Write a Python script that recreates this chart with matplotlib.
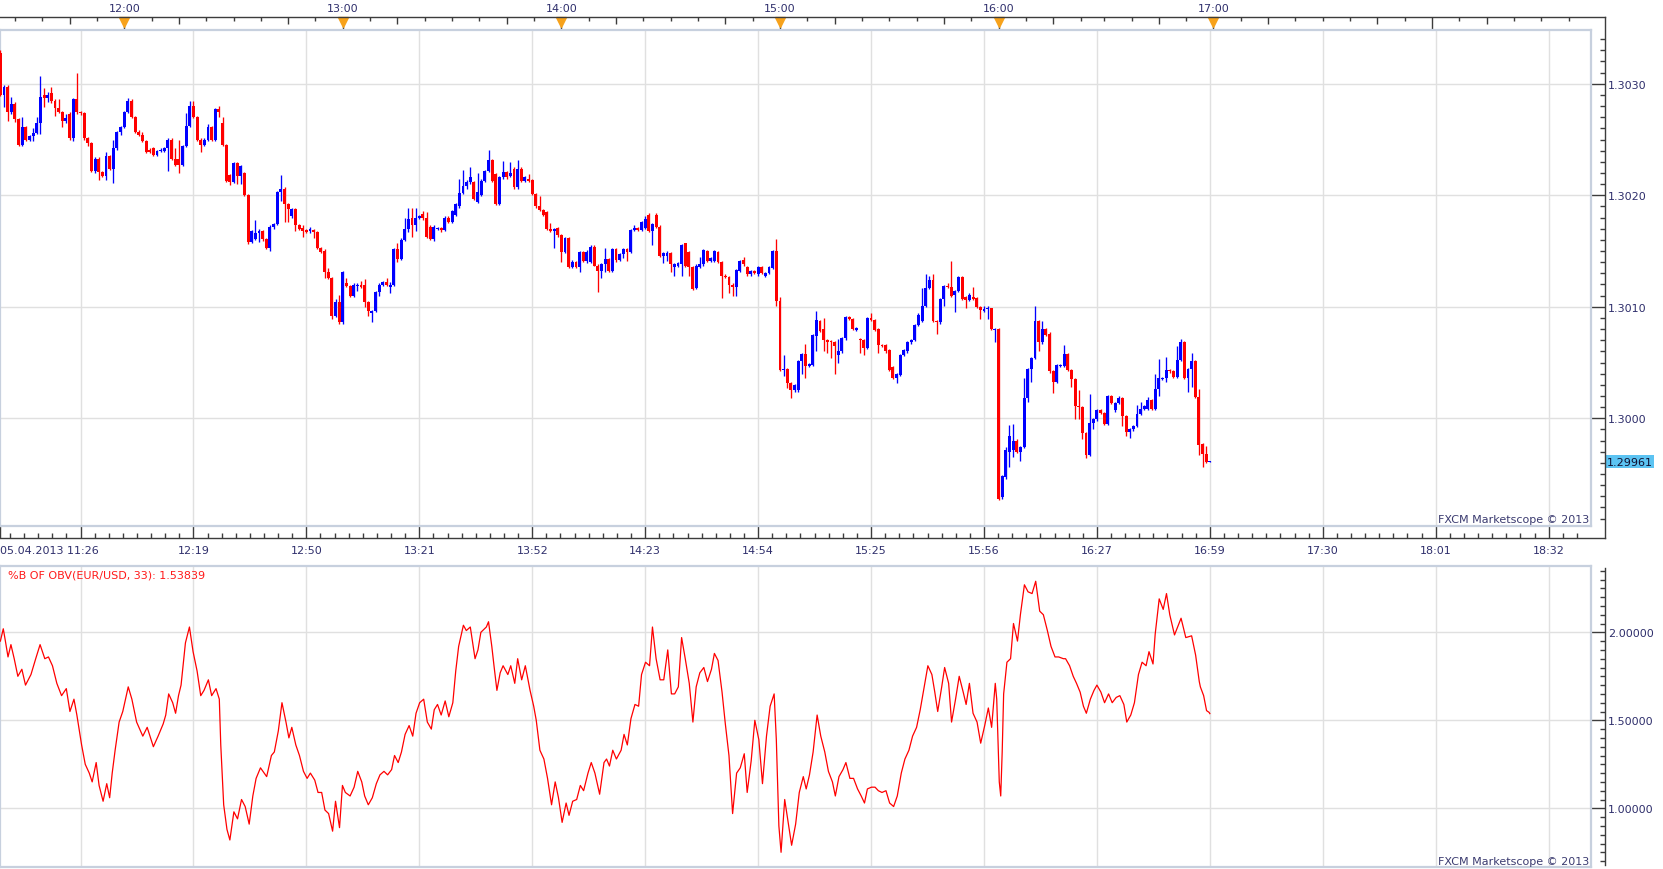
import numpy as np
import matplotlib
matplotlib.use('Agg')
import matplotlib.pyplot as plt
import matplotlib.transforms as mtransforms
from matplotlib.lines import Line2D

# EUR/USD 1-minute candles, 05.04.2013 11:26 .. 16:59, prices in pips above 1.3000
base = 1.3000
opens_pips = [
    32.8, 29.0, 29.7, 27.5, 28.2, 26.8, 24.5, 26.1, 25.0, 25.3,
    25.6, 26.5, 29.0, 28.7, 29.2, 28.5, 27.8, 27.5, 26.7, 27.3,
    25.1, 28.6, 27.5, 27.4, 25.1, 24.7, 22.2, 23.3, 22.1, 21.7,
    23.5, 22.4, 24.2, 25.7, 26.1, 27.5, 28.5, 27.0, 25.7, 25.4,
    24.9, 24.1, 24.2, 23.6, 24.0, 24.0, 24.2, 25.0, 23.3, 23.3,
    22.7, 24.4, 26.2, 28.0, 27.0, 25.0, 24.5, 25.0, 26.1, 25.0,
    27.7, 26.5, 24.5, 21.8, 21.2, 22.9, 21.7, 22.0, 20.0, 15.8,
    16.1, 16.6, 16.8, 16.1, 15.3, 17.2, 17.4, 20.3, 20.6, 19.2,
    18.1, 18.8, 17.3, 17.1, 16.9, 16.8, 16.9, 16.7, 15.3, 15.0,
    13.1, 12.6, 9.2, 10.4, 8.6, 12.1, 11.9, 11.0, 11.9, 12.0,
    12.0, 10.4, 9.4, 9.6, 11.3, 12.0, 12.2, 11.8, 12.0, 15.2,
    14.3, 16.0, 17.0, 18.0, 17.3, 18.0, 18.3, 18.0, 17.2, 16.1,
    17.0, 17.1, 16.9, 18.0, 17.6, 18.2, 19.0, 20.2, 20.8, 21.2,
    21.2, 19.4, 20.0, 21.3, 22.2, 23.2, 21.9, 19.2, 21.6, 22.1,
    21.7, 22.4, 20.7, 22.4, 21.3, 21.5, 21.4, 20.1, 19.0, 18.7,
    18.5, 17.0, 16.8, 17.1, 16.4, 14.9, 16.2, 13.6, 14.0, 13.6,
    14.9, 14.1, 14.0, 15.4, 13.7, 13.2, 13.8, 14.3, 13.2, 15.2,
    14.2, 14.7, 15.2, 14.9, 16.9, 17.1, 16.9, 17.1, 18.2, 16.8,
    18.2, 17.2, 14.6, 14.6, 14.8, 13.6, 13.7, 13.8, 15.7, 14.9,
    13.6, 11.7, 13.6, 13.8, 15.0, 14.1, 14.1, 14.9, 14.0, 12.8,
    12.7, 12.0, 11.8, 13.2, 14.2, 13.6, 12.9, 13.2, 12.9, 13.6,
    12.8, 13.0, 13.5, 15.0, 10.5, 4.3, 4.4, 3.2, 2.5, 2.5,
    5.1, 5.8, 4.7, 4.8, 7.4, 8.7, 8.0, 7.0, 6.9, 6.8,
    5.7, 6.0, 7.2, 9.1, 8.9, 7.9, 7.1, 7.0, 6.3, 9.0,
    8.8, 8.0, 6.6, 6.6, 6.1, 4.6, 3.6, 3.9, 5.7, 6.0,
    6.8, 7.0, 8.4, 8.7, 10.1, 11.7, 12.4, 8.7, 8.6, 10.7,
    11.9, 11.8, 11.1, 11.4, 12.7, 10.9, 10.6, 10.9, 10.8, 10.0,
    9.6, 9.8, 9.9, 7.9, 8.0, -7.1, -5.3, -3.0, -2.8, -2.0,
    -3.0, -2.6, 1.8, 4.4, 5.4, 8.7, 6.8, 8.0, 7.6, 4.2,
    3.3, 4.7, 4.7, 5.8, 4.3, 3.5, 1.1, 1.0, -1.3, -3.3,
    -0.4, -0.1, 0.7, 0.5, -0.5, 2.0, 0.7, 1.4, 1.8, 0.2,
    -1.2, -1.0, -0.7, 0.4, 0.8, 0.8, 1.6, 0.8, 2.6, 3.5,
    3.6, 4.3, 4.2, 3.7, 5.2, 6.8, 3.6, 4.4, 5.1, 1.9,
    -2.3, -3.2, -3.9]
highs_pips = [
    33.0, 29.9, 29.9, 28.8, 28.4, 26.9, 27.0, 26.2, 25.4, 26.0,
    27.0, 30.7, 29.6, 29.3, 29.7, 28.6, 28.6, 27.6, 27.3, 27.5,
    28.7, 31.0, 27.6, 27.5, 25.2, 24.8, 23.4, 23.4, 22.2, 23.9,
    23.6, 25.0, 25.8, 26.2, 27.6, 28.7, 28.6, 27.1, 25.9, 25.7,
    25.0, 24.2, 24.3, 24.1, 24.2, 24.3, 25.1, 25.1, 24.2, 25.0,
    24.5, 27.4, 28.5, 28.5, 27.1, 25.1, 25.1, 26.4, 26.2, 27.8,
    28.0, 27.0, 24.6, 21.9, 23.0, 23.0, 22.7, 22.1, 20.1, 16.9,
    17.8, 17.0, 16.9, 16.2, 17.3, 17.5, 20.4, 21.8, 20.7, 19.3,
    18.9, 18.9, 17.4, 17.3, 17.0, 17.2, 17.0, 16.8, 15.4, 15.2,
    13.5, 12.7, 10.7, 11.1, 13.2, 12.6, 12.0, 12.1, 12.1, 12.3,
    12.5, 10.5, 9.7, 11.4, 12.1, 12.3, 12.6, 12.2, 15.3, 15.7,
    16.2, 18.0, 18.9, 18.9, 18.9, 18.2, 18.6, 18.5, 17.3, 17.3,
    17.2, 17.2, 18.1, 18.1, 18.7, 19.3, 21.5, 22.3, 21.4, 22.5,
    21.3, 22.0, 21.5, 22.3, 24.1, 23.3, 22.0, 21.7, 23.1, 22.2,
    23.0, 22.5, 23.2, 22.5, 21.7, 21.9, 21.5, 20.2, 19.9, 18.8,
    18.6, 17.5, 17.1, 17.2, 16.5, 16.3, 16.3, 14.2, 14.1, 15.0,
    15.0, 15.1, 15.5, 15.5, 13.8, 13.9, 15.3, 14.4, 15.3, 15.3,
    14.8, 15.3, 15.3, 17.0, 17.3, 17.2, 17.7, 18.1, 18.4, 17.5,
    18.4, 17.3, 14.9, 15.0, 14.9, 13.9, 14.0, 15.6, 15.7, 15.0,
    13.7, 13.8, 14.5, 15.2, 15.1, 14.5, 15.1, 15.0, 14.1, 12.9,
    12.8, 12.1, 13.4, 14.2, 14.5, 13.7, 13.3, 13.3, 13.7, 13.7,
    13.1, 13.7, 15.1, 16.1, 10.9, 5.7, 4.5, 3.3, 3.1, 5.2,
    5.9, 6.7, 5.0, 7.6, 9.6, 8.8, 9.0, 7.1, 7.0, 6.9,
    7.1, 7.3, 9.2, 9.2, 9.0, 8.2, 7.2, 7.1, 9.1, 9.4,
    8.9, 8.1, 6.7, 6.7, 6.2, 4.7, 4.1, 5.8, 6.2, 6.9,
    7.1, 8.5, 9.4, 11.7, 12.9, 12.8, 12.9, 8.8, 10.8, 12.0,
    12.1, 14.1, 11.5, 12.8, 12.8, 11.0, 11.2, 11.8, 10.9, 10.1,
    10.1, 10.1, 9.9, 8.1, 8.1, -5.1, -2.6, -0.6, -0.5, -1.9,
    -2.5, 3.6, 4.5, 5.5, 10.1, 8.8, 8.7, 8.1, 7.7, 4.3,
    4.9, 4.9, 6.6, 5.9, 4.4, 3.6, 2.5, 1.1, -1.2, 2.2,
    0.0, 0.8, 0.8, 0.6, 2.1, 2.1, 1.5, 2.0, 1.9, 0.3,
    -0.9, -0.6, 1.2, 1.5, 1.2, 1.9, 1.7, 4.0, 5.3, 3.7,
    5.5, 4.4, 4.3, 6.5, 7.1, 6.9, 4.5, 5.9, 5.2, 2.6,
    -2.2, -2.5, -3.85]
lows_pips = [
    28.9, 27.9, 26.7, 27.3, 26.6, 24.4, 24.4, 24.9, 24.9, 24.9,
    25.5, 25.5, 27.9, 28.4, 28.3, 27.1, 27.4, 26.1, 26.5, 25.0,
    24.9, 27.3, 27.2, 25.0, 24.4, 22.1, 22.0, 21.4, 21.6, 21.4,
    22.3, 21.1, 24.1, 25.4, 26.0, 27.4, 26.9, 25.6, 25.3, 24.8,
    23.8, 23.8, 23.5, 23.5, 23.9, 23.9, 22.2, 23.2, 22.6, 22.0,
    22.6, 24.3, 26.1, 26.9, 24.9, 23.9, 24.4, 24.9, 24.9, 24.9,
    27.0, 24.4, 21.2, 20.9, 21.1, 21.0, 21.0, 19.9, 15.6, 15.7,
    16.0, 15.8, 15.9, 15.2, 15.0, 17.0, 17.3, 19.5, 17.6, 17.6,
    18.0, 16.8, 16.9, 16.3, 16.6, 16.6, 16.2, 15.2, 14.8, 12.6,
    12.5, 8.9, 9.1, 8.5, 8.5, 11.8, 10.9, 10.9, 11.4, 11.7,
    10.0, 9.2, 8.6, 9.5, 11.0, 11.9, 11.9, 11.2, 11.9, 14.0,
    14.2, 15.9, 16.7, 16.3, 16.8, 17.9, 17.8, 16.2, 16.0, 15.9,
    16.9, 16.7, 16.8, 17.5, 17.5, 18.1, 18.9, 20.1, 20.6, 21.0,
    19.6, 19.3, 19.9, 21.2, 22.1, 21.2, 19.1, 19.1, 21.5, 21.5,
    21.6, 20.6, 20.6, 21.2, 21.2, 21.2, 20.0, 18.9, 18.6, 18.1,
    16.9, 16.7, 15.3, 16.3, 14.0, 14.8, 13.5, 13.5, 13.5, 13.1,
    14.0, 13.9, 13.9, 13.7, 11.3, 12.6, 13.1, 13.1, 13.1, 14.0,
    14.1, 14.4, 14.1, 14.8, 16.8, 16.8, 16.8, 17.0, 16.7, 15.5,
    17.1, 14.5, 13.9, 14.1, 13.1, 12.8, 13.6, 12.8, 13.6, 12.8,
    11.5, 11.6, 13.5, 13.7, 14.0, 14.0, 14.0, 13.9, 10.8, 12.6,
    11.2, 11.0, 11.0, 13.1, 13.7, 12.8, 12.8, 12.9, 12.8, 12.9,
    12.7, 12.9, 13.4, 10.1, 4.2, 3.8, 2.7, 1.8, 2.4, 2.4,
    4.0, 3.6, 4.6, 4.7, 6.0, 7.7, 6.0, 5.9, 5.4, 4.0,
    5.0, 5.9, 7.0, 8.8, 7.9, 7.8, 5.9, 5.7, 6.2, 8.7,
    7.8, 5.9, 6.4, 5.9, 4.2, 3.5, 3.2, 3.8, 5.6, 5.9,
    6.7, 6.9, 8.3, 8.6, 10.0, 11.6, 8.6, 7.6, 8.5, 10.1,
    11.7, 10.9, 9.5, 11.3, 10.6, 9.9, 10.5, 10.6, 9.9, 8.9,
    9.5, 8.9, 7.9, 6.8, -7.3, -7.2, -5.4, -4.4, -3.5, -3.1,
    -3.8, -2.7, 1.5, 3.3, 5.3, 6.0, 6.7, 7.4, 4.1, 2.3,
    3.2, 4.6, 4.6, 4.2, 2.8, -0.1, -0.1, -1.9, -3.6, -3.4,
    -1.0, -0.2, 0.4, -0.6, -0.6, 1.3, 0.6, 1.3, -0.7, -1.6,
    -1.8, -1.1, -0.8, 0.3, 0.7, 0.7, 0.7, 0.7, 2.0, 3.4,
    3.3, 4.1, 3.6, 3.6, 5.1, 3.5, 2.4, 2.8, 1.8, -3.3,
    -4.4, -4.0, -3.95]
closes_pips = [
    29.0, 29.7, 27.5, 28.2, 26.8, 24.5, 26.1, 25.0, 25.3, 25.6,
    26.5, 28.8, 28.7, 29.0, 28.5, 27.8, 27.5, 26.7, 26.9, 25.1,
    28.6, 27.5, 27.4, 25.1, 24.7, 22.2, 23.3, 22.1, 21.7, 23.5,
    22.4, 24.2, 25.7, 26.1, 27.5, 28.5, 27.0, 25.7, 25.4, 24.9,
    23.9, 23.9, 23.6, 24.0, 24.1, 24.2, 25.0, 23.3, 22.7, 22.7,
    24.4, 26.2, 28.0, 27.0, 25.0, 24.5, 25.0, 26.1, 25.0, 27.7,
    27.5, 24.5, 21.3, 21.2, 22.9, 21.7, 22.6, 20.0, 15.8, 16.8,
    16.6, 16.8, 16.1, 15.3, 17.2, 17.4, 20.3, 20.6, 19.2, 18.8,
    18.8, 17.3, 17.0, 16.8, 16.7, 17.0, 16.7, 15.3, 14.9, 13.1,
    12.6, 9.2, 10.4, 8.6, 13.1, 11.9, 11.0, 12.0, 12.0, 11.8,
    10.4, 9.6, 9.6, 11.3, 12.0, 12.2, 12.0, 12.0, 15.2, 14.3,
    16.0, 17.0, 17.9, 17.3, 18.0, 18.1, 18.0, 16.3, 16.1, 17.2,
    17.1, 16.9, 18.0, 17.6, 18.6, 19.2, 20.2, 20.8, 21.2, 21.6,
    19.7, 20.3, 21.3, 22.2, 23.2, 21.3, 19.2, 21.6, 22.1, 21.6,
    22.0, 20.7, 22.4, 21.3, 21.6, 21.3, 20.1, 19.0, 18.7, 18.2,
    17.0, 16.8, 17.0, 16.4, 14.9, 16.2, 13.6, 14.0, 13.6, 14.9,
    14.1, 14.9, 15.4, 13.7, 13.2, 13.8, 14.3, 13.2, 15.2, 14.2,
    14.7, 15.2, 14.9, 16.9, 17.1, 16.9, 17.6, 17.9, 16.8, 17.4,
    17.2, 14.6, 14.8, 14.8, 13.8, 13.8, 13.9, 15.5, 13.7, 13.6,
    11.6, 13.7, 13.8, 15.1, 14.1, 14.4, 15.0, 14.0, 12.8, 12.7,
    12.0, 11.8, 13.3, 14.1, 13.8, 12.9, 13.2, 13.0, 13.6, 13.0,
    13.0, 13.6, 15.0, 10.5, 4.3, 4.4, 3.2, 2.5, 3.0, 5.1,
    5.8, 4.7, 4.9, 7.5, 8.8, 7.8, 7.0, 6.8, 6.8, 6.5,
    6.0, 7.2, 9.1, 8.9, 8.0, 8.1, 7.0, 6.3, 9.0, 8.8,
    7.9, 6.6, 6.5, 6.0, 4.3, 3.6, 4.0, 5.7, 6.1, 6.8,
    7.0, 8.4, 9.3, 10.1, 11.7, 12.4, 8.7, 8.6, 10.7, 11.9,
    11.8, 11.0, 11.4, 12.7, 10.7, 10.6, 11.1, 10.7, 10.0, 9.7,
    9.8, 9.9, 8.0, 8.0, -7.2, -5.2, -2.8, -1.6, -2.0, -3.0,
    -2.6, 1.8, 4.4, 5.4, 8.7, 6.8, 8.0, 7.5, 4.2, 3.3,
    4.8, 4.8, 5.8, 4.3, 3.5, 1.1, 1.0, -1.3, -3.3, -0.4,
    -0.1, 0.7, 0.5, -0.5, 2.0, 1.4, 1.4, 1.8, 0.2, -1.2,
    -1.0, -0.7, 0.4, 0.8, 1.1, 1.6, 0.8, 2.6, 3.6, 3.6,
    4.3, 4.2, 3.7, 5.2, 6.8, 3.6, 4.4, 5.1, 1.9, -2.4,
    -3.2, -3.9, -3.9]

# %B of OBV, read as (bar position, value) vertices
obv_bar = [
    0, 0.8, 1.3, 2.1, 2.9, 3.8, 4.8, 5.9, 6.9, 8.4, 9.7, 10.9, 12.2, 13.2, 14.3,
    15.5, 16.8, 18.1, 19.1, 20.2, 21.0, 22.3, 23.3, 24.4, 25.2, 26.3, 27.1, 28.2,
    29.2, 30.0, 30.7, 31.5, 32.6, 33.6, 35.1, 36.1, 37.4, 39.1, 40.3, 42.0, 43.3,
    44.7, 45.4, 46.2, 47.3, 48.1, 48.9, 49.6, 50.8, 51.9, 52.9, 54.0, 55.0, 55.9,
    57.1, 58.0, 59.2, 60.1, 60.5, 61.3, 62.2, 63.0, 64.1, 65.1, 66.2, 67.2, 68.3,
    69.3, 70.2, 71.4, 73.1, 74.4, 75.2, 76.3, 77.3, 78.4, 79.2, 80.0, 81.1, 82.1,
    83.2, 84.2, 85.1, 86.3, 87.2, 88.2, 89.1, 90.1, 91.2, 92.0, 93.1, 93.9, 94.7,
    96.0, 97.1, 98.1, 99.2, 100.0, 101.0, 102.1, 103.2, 104.2, 105.3, 106.3,
    107.4, 108.2, 109.2, 110.1, 111.1, 112.2, 113.2, 114.1, 115.1, 116.2, 117.2,
    118.3, 119.1, 120.0, 121.0, 122.1, 123.1, 124.2, 125.0, 125.8, 127.1, 127.9,
    129.0, 129.8, 130.3, 131.1, 131.9, 133.4, 134.0, 134.9, 135.5, 136.3, 137.2,
    138.0, 139.3, 140.1, 141.2, 142.0, 143.1, 144.1, 145.4, 146.4, 147.1, 148.1,
    149.2, 150.2, 151.3, 152.3, 153.2, 154.2, 155.3, 156.1, 157.1, 158.2, 159.2,
    160.1, 161.3, 162.2, 163.2, 164.5, 165.7, 166.4, 167.2, 168.1, 169.1, 170.4,
    171.2, 172.1, 173.1, 174.2, 175.2, 176.0, 177.1, 178.2, 179.0, 180.0, 181.1,
    182.1, 183.2, 184.2, 185.1, 186.1, 187.0, 188.0, 189.1, 190.1, 191.0, 192.0,
    193.1, 194.1, 195.2, 196.0, 197.0, 198.1, 199.0, 200.0, 201.0, 202.1, 203.1,
    204.2, 205.0, 206.1, 207.1, 208.2, 209.2, 210.3, 211.3, 212.4, 213.0, 213.7,
    214.3, 215.3, 216.4, 217.2, 218.3, 219.3, 220.4, 221.2, 222.1, 223.1, 224.2,
    225.2, 226.3, 227.3, 228.4, 229.2, 230.2, 231.3, 232.1, 233.2, 234.2, 235.3,
    236.3, 237.2, 238.0, 239.1, 240.1, 241.0, 242.0, 243.1, 244.1, 245.2, 246.2,
    247.3, 248.3, 249.4, 250.4, 251.5, 252.5, 253.6, 254.6, 255.7, 256.5, 257.3,
    258.4, 259.2, 260.3, 261.1, 262.2, 263.2, 264.3, 265.1, 266.0, 267.0, 268.1,
    269.1, 270.2, 271.2, 272.1, 273.1, 273.5, 274.2, 274.6, 275.0, 275.4, 276.3,
    277.3, 278.1, 279.2, 280.0, 281.1, 282.1, 283.2, 284.2, 285.3, 286.3, 287.4,
    288.4, 289.5, 290.5, 291.8, 292.4, 293.5, 294.5, 295.4, 296.4, 297.3, 298.1,
    299.2, 300.2, 301.0, 302.1, 303.1, 304.2, 305.2, 306.3, 307.3, 308.4, 309.2,
    310.3, 311.3, 312.4, 313.4, 314.5, 315.3, 316.4, 317.0, 318.1, 319.2, 320.1,
    321.0, 322.3, 324.1, 325.4, 327.0, 328.1, 329.1, 329.4, 330.3, 331.1, 331.8,
    332.0]
obv_val = [
    1.95, 2.02, 1.96, 1.86, 1.93, 1.85, 1.75, 1.79, 1.70, 1.76, 1.85, 1.93, 1.85,
    1.86, 1.81, 1.71, 1.64, 1.68, 1.55, 1.62, 1.53, 1.36, 1.25, 1.20, 1.15, 1.26,
    1.13, 1.04, 1.14, 1.06, 1.20, 1.33, 1.49, 1.55, 1.69, 1.62, 1.49, 1.41, 1.46,
    1.35, 1.41, 1.48, 1.53, 1.65, 1.60, 1.54, 1.64, 1.70, 1.94, 2.03, 1.89, 1.78,
    1.64, 1.67, 1.73, 1.64, 1.68, 1.62, 1.36, 1.02, 0.88, 0.82, 0.98, 0.94, 1.05,
    1.01, 0.91, 1.07, 1.17, 1.23, 1.18, 1.30, 1.32, 1.44, 1.60, 1.49, 1.40, 1.46,
    1.36, 1.30, 1.21, 1.17, 1.20, 1.16, 1.09, 1.09, 0.99, 0.97, 0.87, 1.04, 0.89,
    1.13, 1.09, 1.07, 1.12, 1.21, 1.15, 1.07, 1.02, 1.06, 1.14, 1.19, 1.21, 1.19,
    1.22, 1.30, 1.26, 1.32, 1.42, 1.47, 1.41, 1.54, 1.60, 1.62, 1.49, 1.45, 1.56,
    1.59, 1.53, 1.61, 1.52, 1.60, 1.78, 1.92, 2.04, 2.01, 2.03, 1.92, 1.85, 1.90,
    2.00, 2.03, 2.06, 1.92, 1.81, 1.67, 1.77, 1.81, 1.76, 1.81, 1.71, 1.85, 1.73,
    1.81, 1.67, 1.58, 1.50, 1.33, 1.28, 1.17, 1.02, 1.15, 1.06, 0.92, 1.03, 0.96,
    1.04, 1.05, 1.13, 1.10, 1.20, 1.26, 1.20, 1.08, 1.26, 1.28, 1.24, 1.33, 1.28,
    1.33, 1.42, 1.36, 1.51, 1.59, 1.58, 1.76, 1.83, 1.81, 2.03, 1.85, 1.73, 1.73,
    1.90, 1.65, 1.65, 1.69, 1.97, 1.85, 1.71, 1.49, 1.69, 1.77, 1.80, 1.72, 1.79,
    1.88, 1.84, 1.66, 1.48, 1.30, 0.97, 1.20, 1.23, 1.31, 1.09, 1.27, 1.50, 1.39,
    1.14, 1.41, 1.58, 1.65, 1.39, 0.90, 0.75, 1.05, 0.90, 0.79, 0.91, 1.09, 1.18,
    1.11, 1.19, 1.32, 1.53, 1.41, 1.32, 1.21, 1.15, 1.07, 1.18, 1.22, 1.26, 1.17,
    1.17, 1.11, 1.07, 1.03, 1.11, 1.12, 1.12, 1.10, 1.09, 1.10, 1.03, 1.01, 1.07,
    1.20, 1.28, 1.33, 1.41, 1.46, 1.56, 1.69, 1.81, 1.76, 1.66, 1.55, 1.69, 1.80,
    1.71, 1.49, 1.62, 1.75, 1.66, 1.59, 1.71, 1.54, 1.49, 1.37, 1.47, 1.57, 1.46,
    1.71, 1.62, 1.15, 1.07, 1.32, 1.65, 1.83, 1.85, 2.05, 1.95, 2.10, 2.27, 2.23,
    2.22, 2.29, 2.12, 2.10, 2.01, 1.92, 1.86, 1.86, 1.85, 1.85, 1.81, 1.75, 1.71,
    1.66, 1.58, 1.54, 1.62, 1.67, 1.70, 1.66, 1.60, 1.65, 1.60, 1.63, 1.64, 1.59,
    1.49, 1.53, 1.60, 1.76, 1.83, 1.81, 1.89, 1.82, 1.99, 2.19, 2.13, 2.22, 2.10,
    1.985, 2.08, 1.97, 1.98, 1.87, 1.72, 1.69, 1.64, 1.555, 1.545, 1.538]

# axis annotations
grid_bars = [0, 22, 53, 84, 115, 146, 177, 208, 239, 270, 301, 332, 363, 394, 425]
grid_labels = ['05.04.2013 11:26', '', '12:19', '12:50', '13:21', '13:52', '14:23',
               '14:54', '15:25', '15:56', '16:27', '16:59', '17:30', '18:01', '18:32']
hour_bars = [34, 94, 154, 214, 274, 333, 393]
hour_labels = ['12:00', '13:00', '14:00', '15:00', '16:00', '17:00', '']
price_grid = [1.3000, 1.3010, 1.3020, 1.3030]
obv_grid = [1.0, 1.5, 2.0]
last_price = '1.29961'
obv_title = '%B OF OBV(EUR/USD, 33): 1.53839'
credit = 'FXCM Marketscope \u00a9 2013'

# ---- layout (pixels of a 1663x870 canvas) ----
W, H = 1663, 870
PT = 0.72  # points per pixel at dpi 100
TXT = '#2f2f6c'
DARK = '#3c3c3c'
FRAME = '#c7d0de'
GRID = '#e0e0e0'


def rect(x0, y0, x1, y1):
    return [x0 / W, 1 - y1 / H, (x1 - x0) / W, (y1 - y0) / H]


def fig_line(fig, xs, ys):
    fig.add_artist(Line2D([x / W for x in xs], [1 - y / H for y in ys],
                          transform=fig.transFigure, color=DARK, lw=1.0))


fig = plt.figure(figsize=(W / 100, H / 100), dpi=100, facecolor='white')
plt.rcParams['font.family'] = ['DejaVu Sans']

PANEL_R = 1590.7
SPINE_X = 1605
top1, bot1 = 31, 526.7
top2, bot2 = 567.3, 868.3
px_per_bar = 3.643
x_lo = -0.1
x_hi = x_lo + PANEL_R / px_per_bar

ax1 = fig.add_axes(rect(0, top1, PANEL_R, bot1))
ax2 = fig.add_axes(rect(0, top2, PANEL_R, bot2))

# price scale: 11.15 px per pip, 1.3030 at y=84.8
ax1.set_xlim(x_lo, x_hi)
ax1.set_ylim(base + (-(bot1 - 419.3) / 11.15) / 1e4, base + (30 + (84.8 - top1) / 11.15) / 1e4)
ax2.set_xlim(x_lo, x_hi)
ax2.set_ylim(1.0 - (bot2 - 809.3) / 176, 2.0 + (633.3 - top2) / 176)

for ax in (ax1, ax2):
    ax.set_facecolor('white')
    ax.set_axisbelow(True)
    ax.set_xticks(grid_bars[1:])
    ax.grid(True, color=GRID, lw=1.0)
    ax.tick_params(bottom=False, left=False, labelbottom=False, labelleft=False)
    for sp in ax.spines.values():
        sp.set_color(FRAME)
        sp.set_linewidth(1.6)
ax1.set_yticks(price_grid)
ax2.set_yticks(obv_grid)

# candles
o = base + np.array(opens_pips) / 1e4
h = base + np.array(highs_pips) / 1e4
l = base + np.array(lows_pips) / 1e4
c = base + np.array(closes_pips) / 1e4
bars = np.arange(len(c))
cols = ['#0000ff' if cc >= oo else '#ff0000' for oo, cc in zip(o, c)]
ax1.vlines(bars, l, h, colors=cols, lw=0.95, zorder=3)
ax1.bar(bars, np.maximum(np.abs(c - o), 0.000009), bottom=np.minimum(o, c),
        width=0.8, color=cols, linewidth=0, zorder=4)

# indicator line
ax2.plot(obv_bar, obv_val, color='#ff0000', lw=0.9, zorder=3)

# ---- top time axis ----
loc_top = 1 + (top1 - 18.3) / (bot1 - top1)
quarter = np.arange(19, x_hi, 30.0)
short = np.array([t for t in np.arange(4, x_hi, 7.5)
                  if (t - 4) % 15 != 0 or (t - 4) % 60 == 0])
quarter = np.where(quarter > 300, quarter - 1, quarter)
short = np.where(short > 300, short - 1, short)

sec_top = ax1.secondary_xaxis(loc_top)
sec_top.set_xticks(hour_bars, labels=hour_labels)
sec_top.set_xticks(quarter, minor=True)
sec_top.tick_params(which='major', direction='in', length=13.4 * PT, width=1.0,
                    color=DARK, pad=3, labelsize=8, labelcolor=TXT)
sec_top.tick_params(which='minor', direction='in', length=6.7 * PT, width=1.0, color=DARK)
sec_top2 = ax1.secondary_xaxis(loc_top)
sec_top2.set_xticks(short, labels=[''] * len(short))
sec_top2.tick_params(which='major', direction='in', length=4.4 * PT, width=1.0, color=DARK)
for s in (sec_top, sec_top2):
    for sp in s.spines.values():
        sp.set_visible(False)

tri_tf = mtransforms.blended_transform_factory(ax1.transData, ax1.transAxes)
ax1.plot(hour_bars[:6], [1 + (top1 - 23.5) / (bot1 - top1)] * 6, linestyle='none',
         marker='v', markersize=6.5, color='#f7a21b', transform=tri_tf,
         clip_on=False, zorder=6)

# ---- bottom time axis ----
loc_bot = -(539 - bot1) / (bot1 - top1)
step = 31 / 8
minor_bot = [t for t in np.arange(22 - 5 * step, x_hi, step)
             if abs(((t - 22) / step) % 8) > 1e-6 and t > 0.5]
sec_bot = ax1.secondary_xaxis(loc_bot)
sec_bot.set_xticks(grid_bars, labels=grid_labels)
sec_bot.set_xticks(minor_bot, minor=True)
sec_bot.tick_params(which='major', direction='in', length=12.3 * PT, width=1.0,
                    color=DARK, pad=5, labelsize=8, labelcolor=TXT)
sec_bot.tick_params(which='minor', direction='in', length=5 * PT, width=1.0, color=DARK)
sec_bot.get_xticklabels()[0].set_horizontalalignment('left')
for sp in sec_bot.spines.values():
    sp.set_visible(False)

# ---- right price axes ----
loc_r = 1 + (SPINE_X - PANEL_R) / PANEL_R
sec_r1 = ax1.secondary_yaxis(loc_r)
sec_r1.set_yticks(price_grid, labels=[f'{p:.4f}' for p in price_grid])
sec_r1.set_yticks([base + k / 1e4 for k in range(-9, 35) if k % 10 != 0], minor=True)
sec_r2 = ax2.secondary_yaxis(loc_r)
sec_r2.set_yticks(obv_grid, labels=[f'{v:.5f}' for v in obv_grid])
sec_r2.set_yticks([k / 20 for k in range(14, 48) if k % 10 != 0], minor=True)
for s in (sec_r1, sec_r2):
    s.tick_params(which='major', direction='in', length=(SPINE_X - PANEL_R) * PT,
                  width=1.0, color=DARK, pad=2, labelsize=8, labelcolor=TXT)
    s.tick_params(which='minor', direction='in', length=5 * PT, width=1.0, color=DARK)
    for sp in s.spines.values():
        sp.set_visible(False)

# dark axis lines
fig_line(fig, [0, SPINE_X], [18.3, 18.3])
fig_line(fig, [SPINE_X, SPINE_X], [18.3, 539])
fig_line(fig, [0, SPINE_X], [539, 539])
fig_line(fig, [SPINE_X, SPINE_X], [569, 866])

# last price tag
tag_tf = mtransforms.blended_transform_factory(ax1.transAxes, ax1.transData)
ax1.text(loc_r + 1.5 / PANEL_R, c[-1], last_price, transform=tag_tf, fontsize=8,
         color='#101030', va='center', ha='left', clip_on=False, zorder=7,
         bbox=dict(boxstyle='square,pad=0.15', fc='#5cc3f2', ec='none'))

# texts
ax1.text(1 - 1.7 / PANEL_R, (bot1 - 520) / (bot1 - top1), credit, transform=ax1.transAxes,
         fontsize=8, color='#3b3b70', ha='right', va='center')
ax2.text(1 - 1.7 / PANEL_R, (bot2 - 862) / (bot2 - top2), credit, transform=ax2.transAxes,
         fontsize=8, color='#3b3b70', ha='right', va='center')
ax2.text(8 / PANEL_R, 1 - (575 - top2) / (bot2 - top2), obv_title, transform=ax2.transAxes,
         fontsize=8, color='#ff1a1a', ha='left', va='center')

fig.savefig('out.png', dpi=100, facecolor='white')
